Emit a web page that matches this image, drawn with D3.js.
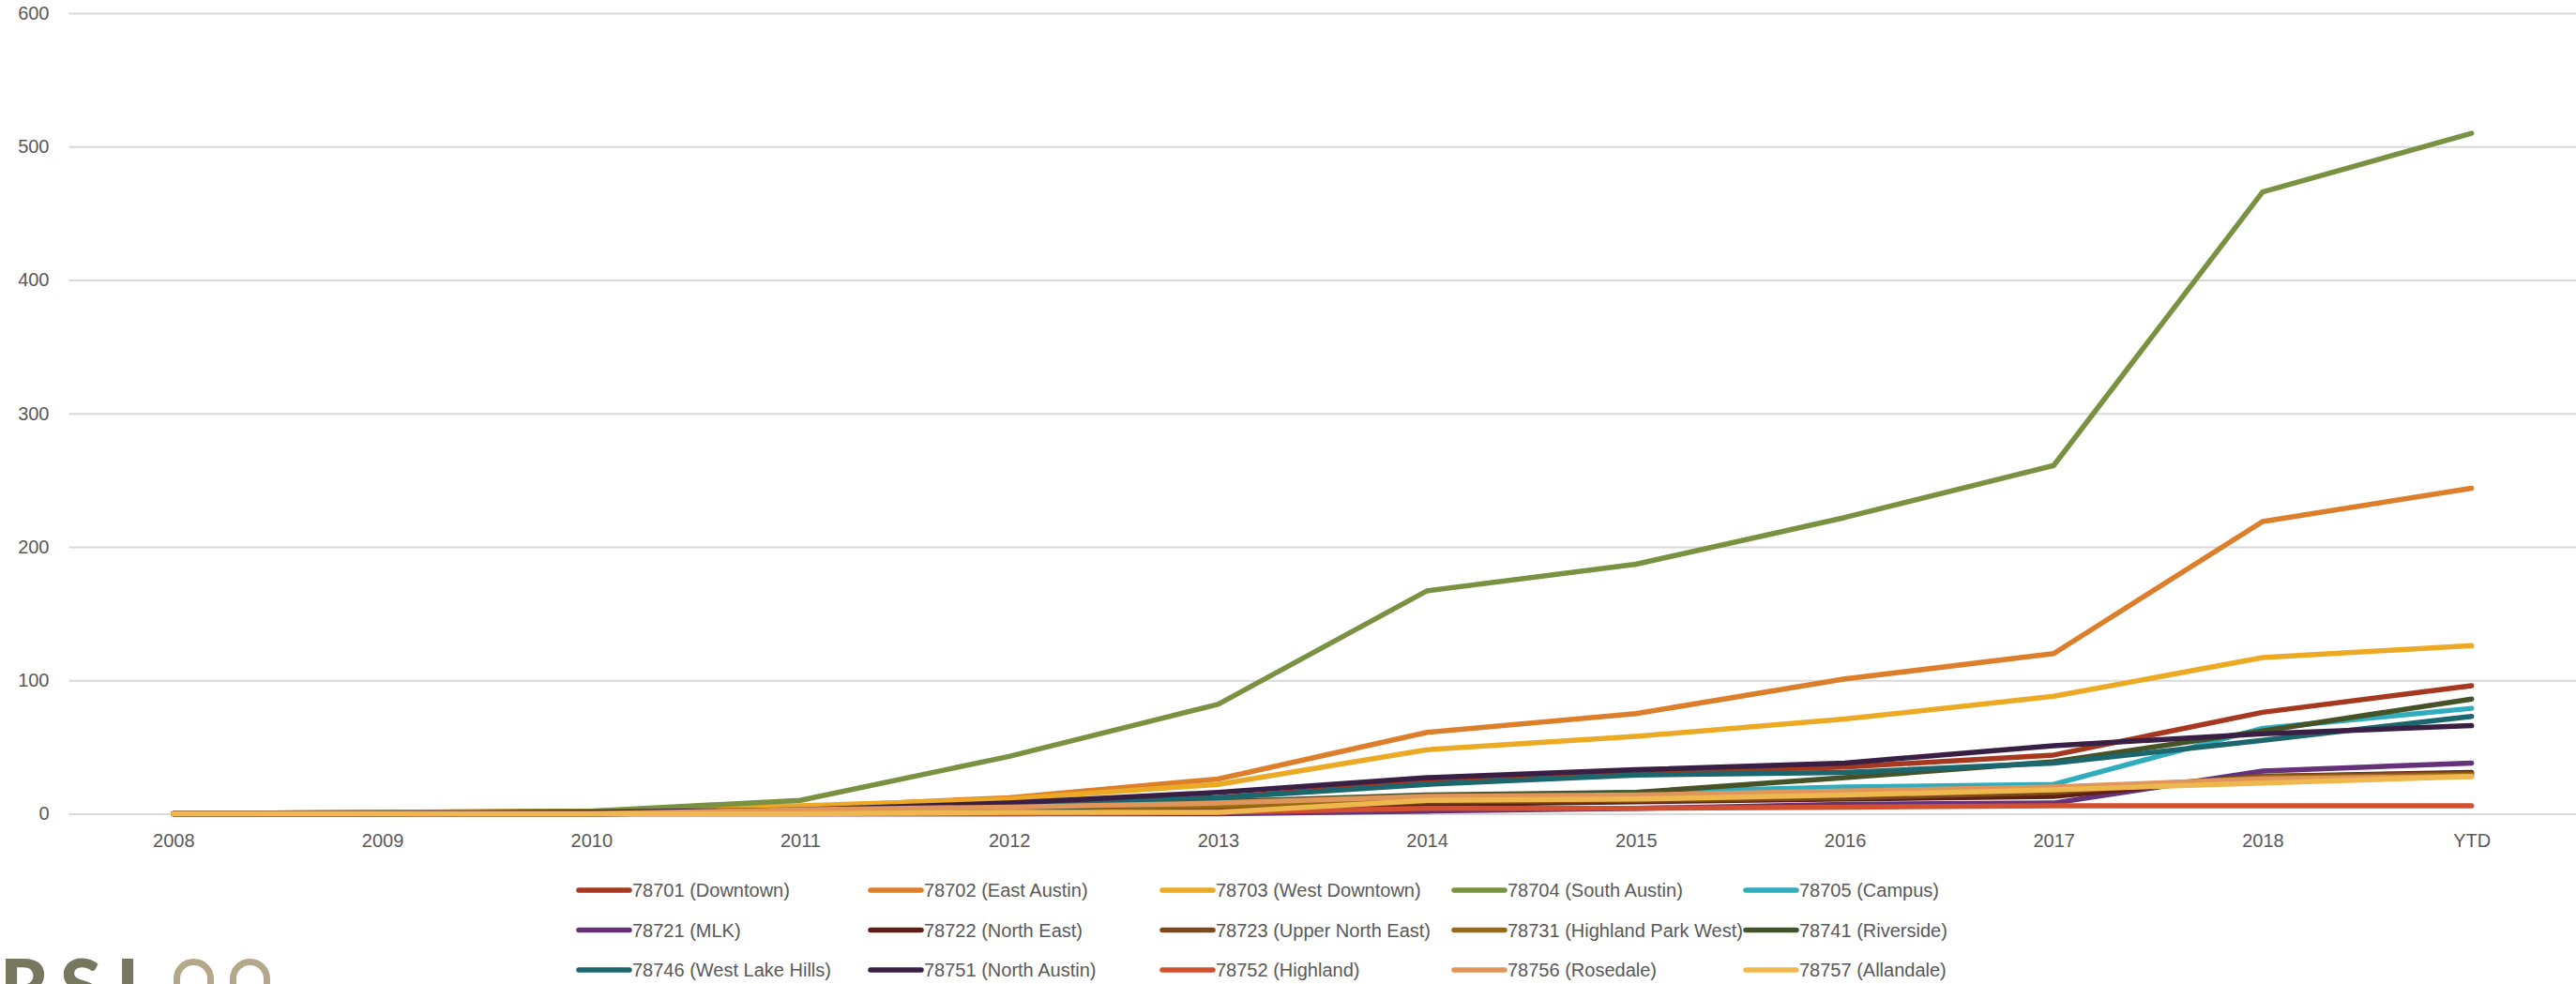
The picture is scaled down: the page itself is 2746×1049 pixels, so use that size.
<!DOCTYPE html>
<html>
<head>
<meta charset="utf-8">
<script src="https://cdn.jsdelivr.net/npm/d3@7"></script>
<style>
  body { margin: 0; background: #fff; }
  svg text { font-family: "Liberation Sans", Arial, sans-serif; fill: #595959; }
  .grid line { stroke: #d9d9d9; stroke-width: 2; }
  .grid .domain { display: none; }
</style>
</head>
<body>
<div id="chart"></div>
<script>
// categories + tick values
const categories = ["2008", "2009", "2010", "2011", "2012", "2013", "2014", "2015", "2016", "2017", "2018", "YTD"];
const yTicks = [0, 100, 200, 300, 400, 500, 600];

// series names, colours and values
const seriesNames = [
  "78701 (Downtown)", "78702 (East Austin)", "78703 (West Downtown)", "78704 (South Austin)", "78705 (Campus)",
  "78721 (MLK)", "78722 (North East)", "78723 (Upper North East)", "78731 (Highland Park West)", "78741 (Riverside)",
  "78746 (West Lake Hills)", "78751 (North Austin)", "78752 (Highland)", "78756 (Rosedale)", "78757 (Allandale)"
];
const seriesColors = [
  "#a5381f", "#dc7e2a", "#eca924", "#7a9141", "#2fadbd",
  "#65327a", "#611f14", "#7e4a1c", "#9a6a10", "#465227",
  "#1c666d", "#3a1f45", "#d24f2f", "#e0955a", "#efb84f"
];
const v78701 = [0, 0, 1, 3, 6, 12, 24, 31, 35, 44, 76, 96];
const v78702 = [0, 1, 2, 5, 12, 26, 61, 75, 101, 120, 219, 244];
const v78703 = [0, 1, 2, 6, 11, 22, 48, 58, 71, 88, 117, 126];
const v78704 = [0, 1, 2, 10, 43, 82, 167, 187, 222, 261, 466, 510];
const v78705 = [0, 0, 0, 1, 3, 7, 13, 16, 20, 22, 64, 79];
const v78721 = [0, 0, 0, 0, 0, 0, 2, 4, 7, 8, 32, 38];
const v78722 = [0, 0, 0, 1, 2, 4, 7, 9, 11, 13, 28, 31];
const v78723 = [0, 0, 0, 1, 2, 4, 9, 10, 12, 16, 28, 30];
const v78731 = [0, 0, 1, 2, 4, 6, 12, 13, 15, 18, 27, 29];
const v78741 = [0, 0, 0, 1, 3, 9, 14, 16, 27, 39, 62, 86];
const v78746 = [0, 0, 1, 2, 6, 12, 22, 29, 31, 38, 55, 73];
const v78751 = [0, 0, 1, 3, 8, 16, 27, 33, 38, 51, 60, 66];
const v78752 = [0, 0, 0, 0, 0, 1, 4, 4, 5, 6, 6, 6];
const v78756 = [0, 0, 0, 3, 5, 8, 13, 14, 17, 20, 26, 28];
const v78757 = [0, 0, 0, 0, 1, 1, 10, 11, 14, 18, 23, 28];

const seriesValues = [v78701, v78702, v78703, v78704, v78705, v78721, v78722, v78723,
  v78731, v78741, v78746, v78751, v78752, v78756, v78757];

const series = seriesNames.map(function(name, i) {
  return { name: name, color: seriesColors[i], values: seriesValues[i] };
});

const width = 2746;
const height = 1049;
const plot = {left: 73.5, right: 2746, top: 14, bottom: 867.5};

const svg = d3.select("#chart")
  .append("svg")
    .attr("width", width)
    .attr("height", height);

// scales
const xScale = d3.scalePoint()
  .domain(categories)
  .range([plot.left, plot.right])
  .padding(0.5);

const yScale = d3.scaleLinear()
  .domain([0, 600])
  .range([plot.bottom, plot.top]);

// horizontal grid lines
svg.append("g")
    .attr("class", "grid")
    .attr("transform", "translate(" + plot.left + ",0)")
  .call(d3.axisLeft(yScale)
    .tickValues(yTicks)
    .tickSize(-(plot.right - plot.left))
    .tickFormat(""));

// Y axis labels
svg.append("g")
    .attr("transform", "translate(" + plot.left + ",0)")
  .call(d3.axisLeft(yScale).tickValues(yTicks).tickSize(0).tickPadding(21))
  .call(function(g) { g.select(".domain").remove(); })
  .selectAll("text")
    .attr("font-size", 20)
    .attr("font-family", null)
    .attr("fill", "#595959");

// X axis labels
svg.append("g")
    .attr("transform", "translate(0," + plot.bottom + ")")
  .call(d3.axisBottom(xScale).tickSize(0).tickPadding(21))
  .call(function(g) { g.select(".domain").remove(); })
  .selectAll("text")
    .attr("font-size", 20)
    .attr("font-family", null)
    .attr("fill", "#595959");

// lines
const line = d3.line()
  .x(function(d, i) { return xScale(categories[i]); })
  .y(function(d) { return yScale(d); });

svg.append("g")
  .selectAll("path")
  .data(series)
  .enter()
  .append("path")
    .attr("d", function(d) { return line(d.values); })
    .attr("fill", "none")
    .attr("stroke", function(d) { return d.color; })
    .attr("stroke-width", 5.5)
    .attr("stroke-linecap", "round")
    .attr("stroke-linejoin", "round");

// legend
const legendX0 = 615, legendColW = 311, legendY0 = 949, legendRowH = 42.5;
const legendItem = svg.append("g")
  .selectAll("g")
  .data(series)
  .enter()
  .append("g")
    .attr("transform", function(d, i) {
      return "translate(" + (legendX0 + (i % 5) * legendColW) + "," + (legendY0 + Math.floor(i / 5) * legendRowH) + ")";
    });

legendItem.append("line")
    .attr("x1", 2).attr("x2", 56)
    .attr("y1", 0).attr("y2", 0)
    .attr("stroke", function(d) { return d.color; })
    .attr("stroke-width", 5.5)
    .attr("stroke-linecap", "round");

legendItem.append("text")
    .attr("x", 59)
    .attr("y", 7)
    .attr("font-size", 20)
    .text(function(d) { return d.name; });

// logo, cut off at the bottom edge like the original
const logo = svg.append("g");
[["R", 0], ["S", 64], ["L", 124]].forEach(function(l) {
  logo.append("text")
      .attr("x", l[1])
      .attr("y", 1080)
      .attr("font-size", 80)
      .attr("font-weight", 900)
      .style("font-family", "Lato, 'DejaVu Sans', sans-serif")
      .style("fill", "#77775f")
      .text(l[0]);
});
[185, 245].forEach(function(x) {
  logo.append("rect")
      .attr("x", x + 3.5)
      .attr("y", 1025.5)
      .attr("width", 36)
      .attr("height", 60)
      .attr("rx", 18)
      .attr("fill", "none")
      .attr("stroke", "#b5a88a")
      .attr("stroke-width", 7);
});
</script>
</body>
</html>
